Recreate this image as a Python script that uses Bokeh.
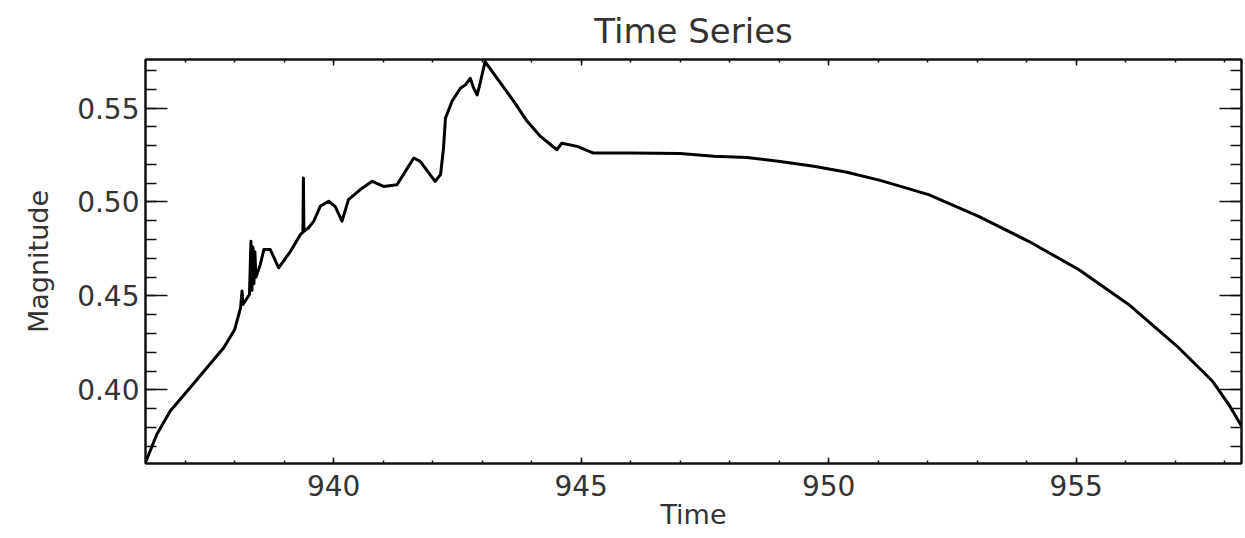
from bokeh.plotting import figure
from bokeh.models import (LinearAxis, SingleIntervalTicker, Range1d, NumeralTickFormatter,
                          CustomJSTickFormatter)
from bokeh.embed import file_html
from bokeh.resources import INLINE

# ---- data ----
time = [936.20, 936.43, 936.70, 937.10, 937.44, 937.78, 938.00, 938.12, 938.15, 938.17,
        938.30, 938.33, 938.35, 938.37, 938.39, 938.41, 938.43, 938.52, 938.59, 938.72,
        938.89, 939.13, 939.33, 939.38, 939.39, 939.40, 939.49, 939.60, 939.73, 939.90,
        940.03, 940.17, 940.30, 940.54, 940.78, 941.01, 941.28, 941.45, 941.62, 941.75,
        942.05, 942.16, 942.22, 942.26, 942.39, 942.56, 942.66, 942.76, 942.83, 942.90,
        942.96, 943.06, 943.30, 943.64, 943.91, 944.18, 944.51, 944.61, 944.92, 945.25,
        946.00, 947.00, 947.68, 948.35, 949.02, 949.70, 950.37, 951.04, 952.02, 953.03,
        954.04, 955.05, 956.06, 957.07, 957.75, 958.08, 958.34]
magnitude = [0.3614, 0.3765, 0.3888, 0.4012, 0.4118, 0.4225, 0.4320, 0.4437, 0.4526, 0.4455,
             0.4508, 0.4791, 0.4530, 0.4760, 0.4565, 0.4735, 0.4600, 0.4668, 0.4747, 0.4747,
             0.4650, 0.4738, 0.4827, 0.4840, 0.5127, 0.4844, 0.4862, 0.4898, 0.4977, 0.5004,
             0.4977, 0.4898, 0.5013, 0.5066, 0.5110, 0.5083, 0.5092, 0.5163, 0.5234, 0.5216,
             0.5110, 0.5146, 0.5287, 0.5446, 0.5535, 0.5605, 0.5623, 0.5658, 0.5605, 0.5570,
             0.5632, 0.5747, 0.5659, 0.5535, 0.5429, 0.5349, 0.5278, 0.5313, 0.5296, 0.5260,
             0.5260, 0.5258, 0.5243, 0.5237, 0.5216, 0.5190, 0.5158, 0.5115, 0.5039, 0.4924,
             0.4791, 0.4641, 0.4455, 0.4225, 0.4048, 0.3924, 0.3809]

title_text = "Time Series"
x_label = "Time"
y_label = "Magnitude"

FONT = "DejaVu Sans"
TXT = "#333333"

p = figure(width=1245, height=538, output_backend="svg", toolbar_location=None,
           x_range=Range1d(936.2, 958.34), y_range=Range1d(0.3609, 0.5758),
           title=title_text, x_axis_label=x_label, y_axis_label=y_label,
           min_border_left=145, min_border_right=4, min_border_top=58,
           min_border_bottom=75)

p.title.align = "center"
p.title.text_font = FONT
p.title.text_font_size = "34px"
p.title.text_font_style = "normal"
p.title.text_color = TXT
p.title.offset = 0
p.title.standoff = 17

p.xgrid.visible = False
p.ygrid.visible = False
p.outline_line_color = "#111111"
p.outline_line_width = 2
p.background_fill_color = "white"
p.border_fill_color = "white"

xt = SingleIntervalTicker(interval=5, num_minor_ticks=5)
yt = SingleIntervalTicker(interval=0.05, num_minor_ticks=5)


def style(ax, major_in, minor_in):
    ax.axis_line_color = "#111111"
    ax.axis_line_width = 2
    ax.major_tick_line_color = "#111111"
    ax.minor_tick_line_color = "#111111"
    ax.major_tick_line_width = 1.5
    ax.minor_tick_line_width = 1.5
    ax.major_tick_in = major_in
    ax.major_tick_out = 0
    ax.minor_tick_in = minor_in
    ax.minor_tick_out = 0
    ax.major_label_text_font = FONT
    ax.major_label_text_color = TXT
    ax.major_label_text_font_size = "28px"
    ax.axis_label_text_font = FONT
    ax.axis_label_text_color = TXT
    ax.axis_label_text_font_style = "normal"
    ax.axis_label_text_font_size = "27px"


xa = p.xaxis[0]
xa.ticker = xt
xa.formatter = NumeralTickFormatter(format="0")
style(xa, 6, 3)
xa.major_label_standoff = 11
xa.axis_label_standoff = 0

ya = p.yaxis[0]
ya.ticker = yt
ya.formatter = NumeralTickFormatter(format="0.00")
style(ya, 22, 11)
ya.major_label_standoff = 6
ya.axis_label_standoff = 20

blank = CustomJSTickFormatter(code="return '';")

top = LinearAxis(ticker=xt, axis_label=None, formatter=blank)
style(top, 6, 3)
top.major_label_standoff = 0
p.add_layout(top, "above")

right = LinearAxis(ticker=yt, axis_label=None, formatter=blank)
style(right, 22, 11)
right.major_label_standoff = 0
p.add_layout(right, "right")

p.line(time, magnitude, line_color="black", line_width=3, line_join="round")

open("out.html", "w").write(file_html(p, INLINE))
